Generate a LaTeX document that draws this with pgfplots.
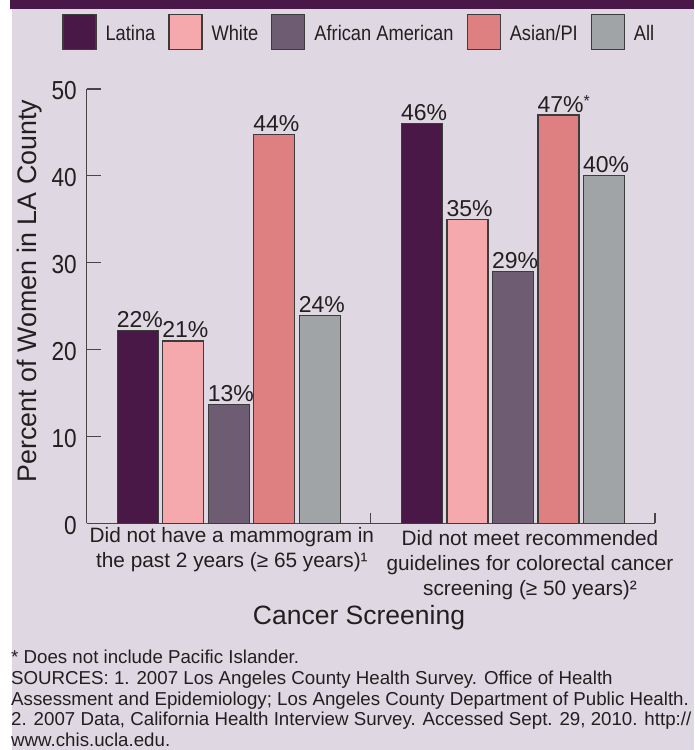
\documentclass[border=0pt]{standalone}
\usepackage{fontspec}
\setmainfont{Liberation Sans}
\newfontfamily\condfont{Liberation Sans}[FakeStretch=0.87]
\usepackage{pgfplots}
\pgfplotsset{compat=1.18}
\definecolor{lav}{RGB}{223,216,226}
\definecolor{band}{RGB}{74,24,72}
\definecolor{cLat}{RGB}{74,24,70}
\definecolor{cWhi}{RGB}{246,169,172}
\definecolor{cAA}{RGB}{110,93,114}
\definecolor{cAsi}{RGB}{222,127,130}
\definecolor{cAll}{RGB}{160,164,167}
\definecolor{bord}{RGB}{60,60,60}
\definecolor{axgray}{RGB}{70,70,70}
\definecolor{txt}{RGB}{35,31,32}
\pgfplotsset{legbox/.style={legend image code/.code={\draw[##1, line width=1.2pt] (0pt,-10pt) rectangle (33pt,25pt);}}}
\newcommand{\legtxt}[1]{\raisebox{12pt}{#1}}
\begin{document}
\begin{tikzpicture}
\fill[white] (0pt,0pt) rectangle (694pt,-750pt);
\fill[lav] (12pt,0pt) rectangle (694pt,-750pt);
\fill[band] (10pt,0pt) rectangle (694pt,-8.5pt);
\begin{axis}[
  at={(86.7pt,-523.3pt)}, anchor=south west,
  scale only axis, width=568.3pt, height=434.3pt,
  xmin=-0.5, xmax=1.5, ymin=0, ymax=50,
  enlargelimits=false, clip=false,
  axis lines*=left,
  axis line style={draw=axgray, line width=1.2pt},
  tick style={draw=axgray, line width=1.2pt},
  tick align=inside,
  major tick length=14pt,
  ytick={0,10,20,30,40,50},
  xtick=\empty,
  extra x ticks={0.5,1.5}, extra x tick labels={},
  extra x tick style={major tick length=10.6pt},
  /pgf/number format/assume math mode=true,
  yticklabel style={font=\condfont\fontsize{26}{26}\selectfont, inner sep=0pt, xshift=-9.7pt, yshift=-2pt, text=txt},
  legend columns=5,
  legend style={at={(-0.0428,1.1722)}, anchor=north west, draw=none, fill=none, inner sep=0pt, outer sep=0pt,
    font=\condfont\fontsize{21}{21}\selectfont, text=txt, nodes={inner sep=0pt},
    /tikz/every odd column/.append style={column sep=9pt},
    /tikz/every even column/.append style={column sep=13pt}},
  nodes near coords, point meta=explicit symbolic,
  every node near coord/.append style={font=\fontsize{23}{23}\selectfont, text=txt, anchor=base west, inner sep=0pt, xshift=-21.5pt, yshift=3pt},
]
\addplot[ybar, bar width=41pt, bar shift=-91pt, fill=cLat, draw=bord, line width=1.2pt, legbox,
  every node near coord/.append style={xshift=-91pt}] coordinates {(0,22.2)[22\%] (1,46.0)[46\%]};
\addplot[ybar, bar width=41pt, bar shift=-45.5pt, fill=cWhi, draw=bord, line width=1.2pt, legbox,
  every node near coord/.append style={xshift=-45.5pt}] coordinates {(0,21.0)[21\%] (1,35.0)[35\%]};
\addplot[ybar, bar width=41pt, bar shift=0pt, fill=cAA, draw=bord, line width=1.2pt, legbox] coordinates {(0,13.7)[13\%] (1,29.0)[29\%]};
\addplot[ybar, bar width=41pt, bar shift=45.5pt, fill=cAsi, draw=bord, line width=1.2pt, legbox,
  every node near coord/.append style={xshift=45.5pt}] coordinates {(0,44.8)[44\%] (1,47.0)[{47\%\raisebox{0.25em}{\fontsize{16}{16}\selectfont*}}]};
\addplot[ybar, bar width=41pt, bar shift=91pt, fill=cAll, draw=bord, line width=1.2pt, legbox,
  every node near coord/.append style={xshift=91pt}] coordinates {(0,23.9)[24\%] (1,40.0)[40\%]};
\legend{\legtxt{Latina}, \legtxt{White}, \legtxt{African American}, \legtxt{Asian/PI}, \legtxt{All}}
\node[anchor=north, align=center, inner sep=0pt, font=\fontsize{20.8}{25}\selectfont, text=txt, yshift=-3.5pt] at (axis cs:0.011,0) {Did not have a mammogram in\\the past 2 years (≥ 65 years)¹};
\node[anchor=north, align=center, inner sep=0pt, font=\fontsize{20.8}{25}\selectfont, text=txt, yshift=-6.7pt] at (axis cs:1.06,0) {Did not meet recommended\\guidelines for colorectal cancer\\screening (≥ 50 years)²};
\end{axis}
\node[rotate=90, anchor=base, inner sep=0pt, font=\fontsize{26.8}{26.8}\selectfont, text=txt] at (36.5pt,-291pt) {Percent of Women in LA County};
\node[anchor=base, inner sep=0pt, font=\fontsize{26.5}{26.5}\selectfont, text=txt] at (359pt,-624.7pt) {Cancer Screening};
\begin{scope}[every node/.style={anchor=base west, inner sep=0pt, font=\fontsize{18.7}{18.7}\selectfont, text=txt}]
\node at (11pt,-663pt) {* Does not include Pacific Islander.};
\node at (11pt,-684pt) {SOURCES: 1. 2007 Los Angeles County Health Survey. Office of Health};
\node at (11pt,-705pt) {Assessment and Epidemiology; Los Angeles County Department of Public Health.};
\node at (11pt,-725.5pt) {2. 2007 Data, California Health Interview Survey. Accessed Sept. 29, 2010. http://};
\node at (11pt,-746pt) {www.chis.ucla.edu.};
\end{scope}
\end{tikzpicture}
\end{document}
